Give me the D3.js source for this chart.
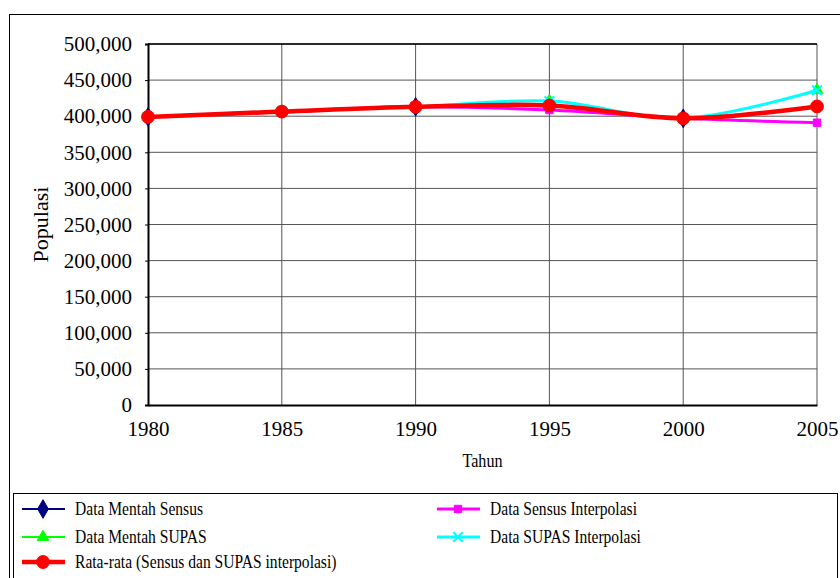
<!DOCTYPE html>
<html>
<head>
<meta charset="utf-8">
<script src="https://cdn.jsdelivr.net/npm/d3@7"></script>
<style>
  body { margin: 0; background: #fff; }
  svg text { font-family: "Liberation Serif", "Times New Roman", serif !important; }
</style>
</head>
<body>
<div id="chart"></div>
<script>
const years = [1980, 1985, 1990, 1995, 2000, 2005];
const sensusYears = [1980, 1990, 2000];
const sensusRaw = [399000, 413000, 397000];
const supasYears = [1985, 1995, 2005];
const supasRaw = [406800, 421000, 436000];
const sensusInterp = [399000, 406000, 413000, 408600, 397000, 391000];
const supasInterp = [399000, 406800, 413000, 421000, 397000, 436000];
const average = [399000, 406400, 413000, 414800, 397000, 413500];
const yTicks = [0, 50000, 100000, 150000, 200000, 250000, 300000, 350000, 400000, 450000, 500000];

const width = 840, height = 578;
const margin = { top: 44, right: 23, bottom: 173, left: 148 };
const serif = '"Liberation Serif", "Times New Roman", serif';

const svg = d3.select('#chart').append('svg')
  .attr('width', width)
  .attr('height', height);

// outer frame
svg.append('rect')
  .attr('x', 9.5).attr('y', 14.5)
  .attr('width', 840).attr('height', 600)
  .attr('fill', 'none').attr('stroke', '#000').attr('stroke-width', 1);

const x = d3.scaleLinear()
  .domain([1980, 2005])
  .range([margin.left, width - margin.right]);

const y = d3.scaleLinear()
  .domain([0, 500000])
  .range([height - margin.bottom, margin.top]);

// grid
svg.append('g')
  .selectAll('line')
  .data(yTicks.slice(1))
  .join('line')
  .attr('x1', x(1980)).attr('x2', x(2005))
  .attr('y1', d => y(d)).attr('y2', d => y(d))
  .attr('stroke', '#555').attr('stroke-width', 1);

svg.append('g')
  .selectAll('line')
  .data(years.slice(1))
  .join('line')
  .attr('x1', d => x(d)).attr('x2', d => x(d))
  .attr('y1', y(0)).attr('y2', y(500000))
  .attr('stroke', '#555').attr('stroke-width', 1);

svg.append('line')
  .attr('x1', x(1980)).attr('x2', x(2005))
  .attr('y1', y(500000)).attr('y2', y(500000))
  .attr('stroke', '#000').attr('stroke-width', 1.5);

// axes
const yAxis = svg.append('g')
  .attr('transform', `translate(${x(1980)},0)`)
  .attr('font-family', serif)
  .call(d3.axisLeft(y).tickValues(yTicks).tickSize(3).tickPadding(13)
    .tickFormat(d3.format(',')));
yAxis.select('.domain').attr('stroke-width', 2);
yAxis.selectAll('text').attr('font-size', '21px').attr('fill', '#000')
  .attr('font-family', serif);

const xAxis = svg.append('g')
  .attr('transform', `translate(0,${y(0)})`)
  .attr('font-family', serif)
  .call(d3.axisBottom(x).tickValues(years).tickSize(0).tickPadding(16)
    .tickFormat(d3.format('d')));
xAxis.select('.domain').attr('stroke-width', 2);
xAxis.selectAll('text').attr('font-size', '21px').attr('fill', '#000')
  .attr('font-family', serif);

svg.append('text')
  .attr('transform', `translate(48,${(y(0) + y(500000)) / 2}) rotate(-90)`)
  .attr('text-anchor', 'middle')
  .attr('font-family', serif)
  .attr('font-size', '22px')
  .text('Populasi');

svg.append('text')
  .attr('transform', `translate(${(x(1980) + x(2005)) / 2},467) scale(0.85,1)`)
  .attr('text-anchor', 'middle')
  .attr('font-family', serif)
  .attr('font-size', '19px')
  .text('Tahun');

// series (raw data drawn as markers only inside the plot)
const curve = d3.curveCardinal.tension(0);
const series = [
  { name: 'Data Mentah Sensus', xs: sensusYears, ys: sensusRaw, color: '#000080', width: 2, marker: 'diamond', size: 100, showLine: false },
  { name: 'Data Mentah SUPAS', xs: supasYears, ys: supasRaw, color: '#00ff00', width: 2, marker: 'triangle', size: 60, showLine: false },
  { name: 'Data Sensus Interpolasi', xs: years, ys: sensusInterp, color: '#ff00ff', width: 3, marker: 'square', size: 55, showLine: true },
  { name: 'Data SUPAS Interpolasi', xs: years, ys: supasInterp, color: '#00ffff', width: 3, marker: 'x', size: 60, showLine: true },
  { name: 'Rata-rata (Sensus dan SUPAS interpolasi)', xs: years, ys: average, color: '#ff0000', width: 4.5, marker: 'circle', size: 130, showLine: true }
];

const symbolType = {
  diamond: d3.symbolDiamond,
  triangle: d3.symbolTriangle,
  square: d3.symbolSquare,
  x: d3.symbolTimes,
  circle: d3.symbolCircle
};

function drawMarker(g, s, cx, cy) {
  const p = g.append('path')
    .attr('transform', `translate(${cx},${cy})`)
    .attr('d', d3.symbol(symbolType[s.marker], s.size)());
  if (s.marker === 'x') {
    p.attr('fill', 'none').attr('stroke', s.color).attr('stroke-width', 2);
  } else {
    p.attr('fill', s.color).attr('stroke', s.color).attr('stroke-width', 1);
  }
}

const line = d3.line().curve(curve);

series.forEach(s => {
  const pts = s.xs.map((yr, i) => [x(yr), y(s.ys[i])]);
  const g = svg.append('g');
  if (s.showLine) {
    g.append('path')
      .attr('d', line(pts))
      .attr('fill', 'none')
      .attr('stroke', s.color)
      .attr('stroke-width', s.width);
  }
  pts.forEach(p => drawMarker(g, s, p[0], p[1]));
});

// legend
svg.append('rect')
  .attr('x', 13.5).attr('y', 493.5)
  .attr('width', 824).attr('height', 100)
  .attr('fill', '#fff').attr('stroke', '#000').attr('stroke-width', 1);

const legendPos = [
  [22, 509], [22, 537], [437, 509], [437, 537], [22, 562]
];

series.forEach((s, i) => {
  const [lx, ly] = legendPos[i];
  const g = svg.append('g');
  g.append('line')
    .attr('x1', lx).attr('x2', lx + 43)
    .attr('y1', ly).attr('y2', ly)
    .attr('stroke', s.color).attr('stroke-width', s.width);
  drawMarker(g, s, lx + 21, ly);
  g.append('text')
    .attr('transform', `translate(${lx + 53},${ly + 6}) scale(0.82,1)`)
    .attr('font-family', serif)
    .attr('font-size', '19px')
    .text(s.name);
});
</script>
</body>
</html>
